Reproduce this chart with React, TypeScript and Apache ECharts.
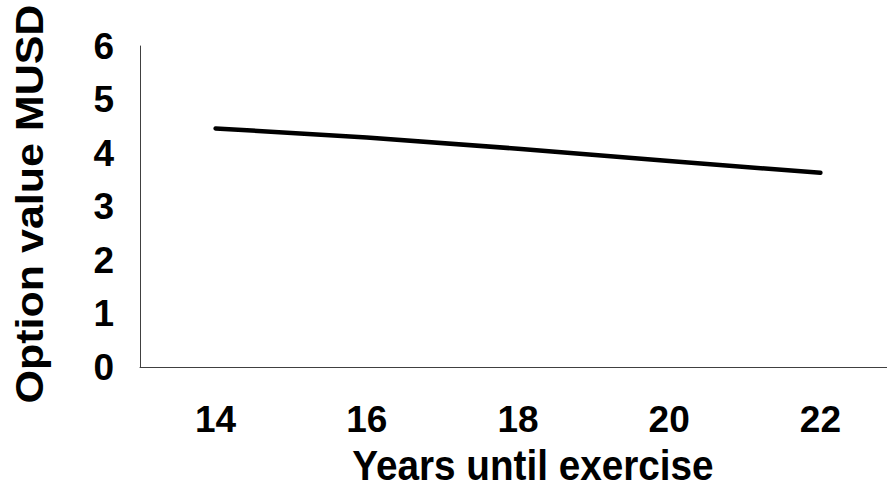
import React, { useEffect, useRef } from "react";
import * as echarts from "echarts";

const categories = ["14", "16", "18", "20", "22"];
const optionValues = [4.46, 4.29, 4.08, 3.85, 3.63];
const yTicks = [0, 1, 2, 3, 4, 5, 6];
const xTitle = "Years until exercise";
const yTitle = "Option value MUSD";

const FONT = "'Liberation Sans', Arial, Helvetica, sans-serif";

export default function App() {
  const ref = useRef<HTMLDivElement>(null);
  useEffect(() => {
    if (!ref.current) return;
    const chart = echarts.init(ref.current, null, { renderer: "svg" });
    chart.setOption({
      animation: false,
      backgroundColor: "#ffffff",
      grid: { left: 140, right: 4, top: 46, bottom: 122 },
      xAxis: {
        type: "category",
        data: categories,
        boundaryGap: true,
        axisLine: { show: true, lineStyle: { color: "#404040", width: 1 } },
        axisTick: { show: false },
        axisLabel: {
          margin: 34,
          color: "#000",
          fontFamily: FONT,
          fontWeight: "bold",
          fontSize: 37,
        },
        splitLine: { show: false },
      },
      yAxis: {
        type: "value",
        min: yTicks[0],
        max: yTicks[yTicks.length - 1],
        interval: 1,
        axisLine: { show: true, lineStyle: { color: "#404040", width: 1 } },
        axisTick: { show: false },
        axisLabel: {
          margin: 26,
          color: "#000",
          fontFamily: FONT,
          fontWeight: "bold",
          fontSize: 37,
        },
        splitLine: { show: false },
      },
      graphic: [
        {
          type: "text",
          x: 533,
          y: 465,
          scaleX: 0.9,
          style: {
            text: xTitle,
            fill: "#000",
            font: `bold 43px ${FONT}`,
            align: "center",
            verticalAlign: "middle",
          },
        },
        {
          type: "text",
          x: 30,
          y: 204,
          rotation: Math.PI / 2,
          scaleY: 0.9,
          style: {
            text: yTitle,
            fill: "#000",
            font: `bold 43px ${FONT}`,
            align: "center",
            verticalAlign: "middle",
          },
        },
      ],
      series: [
        {
          type: "line",
          data: optionValues,
          showSymbol: false,
          symbol: "none",
          lineStyle: { color: "#000", width: 4.5, cap: "round", join: "round" },
        },
      ],
    });
    return () => chart.dispose();
  }, []);
  return (
    <div
      style={{
        position: "absolute",
        left: 0,
        top: 0,
        width: 887,
        height: 489,
        overflow: "hidden",
        background: "#fff",
      }}
    >
      <div ref={ref} style={{ width: 900, height: 489 }} />
    </div>
  );
}
